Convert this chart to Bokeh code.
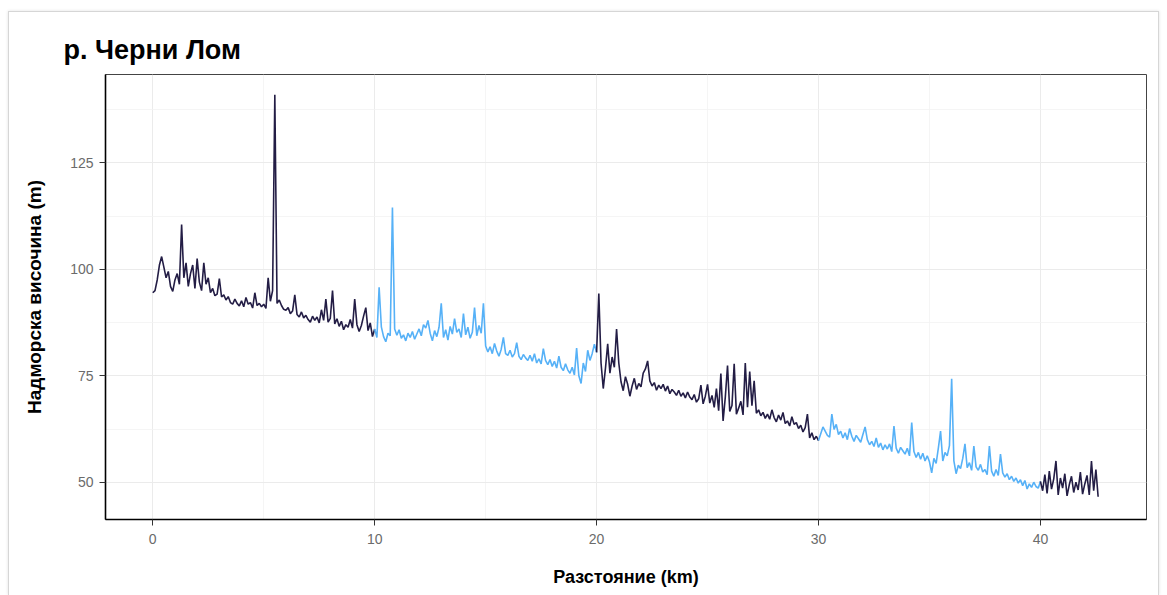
import numpy as np
from bokeh.plotting import figure
from bokeh.models import FixedTicker, Range1d
from bokeh.embed import file_html
from bokeh.resources import INLINE

# Elevation profile of the river, sampled every 0.1 km (metres above sea level)
STEP_KM = 0.1
elevation_m = [
    # 0-1 km
    94.5, 95.0, 97.5, 101.0, 103.0, 100.5, 98.0, 99.5, 96.0, 94.8,
    97.5, 99.0, 96.5, 110.5, 98.0, 101.5, 96.0, 99.0, 101.0, 95.5,
    102.5, 97.0, 95.0, 101.5, 96.5, 98.0, 94.5, 95.5, 93.8, 94.2,
    97.8, 93.5, 94.0, 92.8, 93.6, 92.2, 91.8, 93.0, 92.0, 91.4,
    92.6, 91.2, 93.4, 91.8, 92.2, 90.9, 94.5, 91.5, 92.0, 91.2,
    91.8, 90.8, 98.0, 92.5, 95.0, 141.0, 92.0, 92.8, 91.5, 90.6,
    90.4, 91.0, 89.6, 90.2, 94.0, 89.4, 88.8, 90.0, 88.6, 89.2,
    88.2, 87.6, 89.0, 88.0, 88.8, 87.4, 90.5, 88.0, 93.0, 87.6,
    88.5, 95.0, 87.2, 88.4, 86.6, 87.8, 85.8, 87.0, 86.4, 88.2,
    86.2, 93.0, 87.0, 85.4, 86.8, 89.0, 91.0, 85.6, 87.4, 84.2,
    # 10-11 km
    86.0, 84.0, 95.8, 86.5, 84.2, 83.0, 85.0, 84.4, 114.5, 86.0,
    84.5, 85.8, 83.8, 84.6, 83.2, 85.0, 84.0, 85.4, 83.6, 84.8,
    86.0, 84.4, 87.0, 86.2, 88.0, 85.0, 83.2, 85.6, 84.2, 86.4,
    92.0, 84.0, 85.8, 83.4, 86.6, 84.8, 88.4, 85.2, 86.0, 84.0,
    89.6, 84.6, 86.4, 83.8, 85.2, 91.0, 84.4, 86.8, 85.0, 92.0,
    82.0, 80.6, 81.8, 80.2, 82.6, 80.8, 79.6, 81.2, 84.0, 80.2,
    79.8, 81.0, 79.4, 80.2, 82.8, 79.6, 78.8, 80.0, 79.2, 78.6,
    79.8, 78.4, 80.2, 78.0, 79.0, 77.8, 81.4, 78.6, 77.6, 78.8,
    77.2, 78.4, 76.8, 79.6, 77.0, 76.2, 77.8, 76.4, 75.6, 77.0,
    75.2, 81.5, 75.0, 73.2, 78.0, 76.0, 81.0, 78.6, 80.2, 82.4,
    # 20-21 km
    80.5, 94.3, 78.0, 72.0, 76.8, 82.5, 75.6, 79.4, 77.0, 86.0,
    78.0, 73.6, 71.5, 74.8, 73.0, 70.2, 72.6, 74.4, 71.8, 73.2,
    72.4, 75.6, 76.6, 78.5, 73.8, 72.6, 73.4, 71.6, 72.8, 72.0,
    73.0, 71.4, 72.6, 70.8, 71.8, 71.2, 70.4, 71.6, 70.2, 71.0,
    69.8, 71.2, 70.0, 69.4, 70.6, 68.8, 69.6, 72.8, 68.4, 70.2,
    73.0, 68.6, 70.4, 67.6, 72.0, 66.8, 75.5, 64.4, 70.0, 77.4,
    66.6, 68.0, 77.8, 66.0, 67.4, 69.0, 65.8, 78.0, 67.6, 76.0,
    68.0, 73.8, 66.2, 67.0, 65.6, 66.4, 65.0, 66.0, 64.8, 67.0,
    65.2, 64.2, 65.8, 64.6, 66.4, 63.8, 64.4, 63.2, 65.4, 63.6,
    64.0, 62.6, 63.4, 61.8, 62.8, 66.0, 60.4, 61.6, 60.0, 60.8,
    # 30-31 km
    59.8, 61.4, 63.0, 62.0, 61.0, 60.6, 66.0, 62.4, 63.6, 61.2,
    62.0, 60.4, 61.6, 60.0, 62.6, 60.8, 59.6, 61.0, 60.2, 59.4,
    61.2, 63.0, 60.0, 58.8, 59.6, 58.4, 60.4, 58.2, 59.2, 57.6,
    58.8, 57.8, 59.0, 57.2, 63.2, 58.0, 56.8, 58.2, 57.4, 56.6,
    58.0, 56.2, 64.0, 57.2, 55.8, 57.0, 55.4, 56.8, 55.0, 56.2,
    54.8, 52.2, 55.6, 54.4, 58.0, 62.0, 55.0, 57.0, 56.2, 58.6,
    74.3, 55.0, 52.0, 54.0, 53.2, 55.6, 59.0, 53.4, 54.6, 52.8,
    58.5, 53.6, 52.8, 54.2, 52.4, 53.0, 51.8, 58.5, 52.6, 51.4,
    53.0, 51.6, 56.6, 52.2, 51.2, 52.0, 50.6, 51.4, 50.2, 51.0,
    49.8, 50.6, 49.2, 50.4, 48.4, 49.6, 48.8, 50.0, 49.0, 48.6,
    # 40-42.6 km
    50.2, 48.0, 51.8, 47.4, 52.6, 48.4, 50.8, 55.0, 47.0, 51.0,
    48.6, 52.0, 46.8, 49.4, 51.4, 47.6, 50.0, 48.2, 52.4, 47.2,
    49.6, 51.6, 47.0, 55.0, 48.0, 53.0, 46.6,
]

# 10 km stretches, alternately coloured
segment_edges_km = [0, 10, 20, 30, 40, 42.6]
segment_colors = ["#231d45", "#56B1F7", "#231d45", "#56B1F7", "#231d45"]

x_ticks = [0, 10, 20, 30, 40]
x_minor = [5, 15, 25, 35]
y_ticks = [50, 75, 100, 125]
y_minor = [62.5, 87.5, 112.5, 137.5]

distance_km = np.round(np.arange(len(elevation_m)) * STEP_KM, 1)
elev = np.array(elevation_m)

FONT = "Liberation Sans"

p = figure(
    width=1151, height=584,
    output_backend="svg", toolbar_location=None,
    x_range=Range1d(-2.13, 44.78), y_range=Range1d(41.25, 145.75),
    min_border_left=96, min_border_right=14,
    min_border_top=62, min_border_bottom=77,
    background_fill_color="white", border_fill_color="white",
)
p.margin = (11, 0, 0, 8)
p.styles = {
    "border-left": "1px solid #d6d6d6",
    "border-top": "1px solid #d6d6d6",
    "border-right": "1px solid #d6d6d6",
    "box-shadow": "0 0 3px rgba(0,0,0,0.12)",
}

for (lo, hi), color in zip(zip(segment_edges_km[:-1], segment_edges_km[1:]), segment_colors):
    m = (distance_km >= lo) & (distance_km <= hi)
    p.line(distance_km[m], elev[m], line_color=color, line_width=1.6)

# title
p.title.text = "р. Черни Лом"
p.title.text_font = FONT
p.title.text_font_size = "27px"
p.title.text_font_style = "bold"
p.title.text_color = "black"
p.title.align = "left"
p.title.offset = -42
p.title.standoff = 20

# axes
for ax in (p.xaxis[0], p.yaxis[0]):
    ax.axis_line_color = "black"
    ax.axis_line_width = 1.6
    ax.major_tick_line_color = "#333333"
    ax.major_tick_in = 0
    ax.major_tick_out = 6
    ax.minor_tick_line_color = None
    ax.major_label_text_font = FONT
    ax.major_label_text_font_size = "14px"
    ax.major_label_text_color = "#6b6b6b"
    ax.axis_label_text_font = FONT
    ax.axis_label_text_font_style = "bold"
    ax.axis_label_text_color = "black"

p.xaxis.ticker = FixedTicker(ticks=x_ticks, minor_ticks=x_minor)
p.yaxis.ticker = FixedTicker(ticks=y_ticks, minor_ticks=y_minor)
p.xaxis.axis_label = "Разстояние (km)"
p.yaxis.axis_label = "Надморска височина (m)"
p.xaxis.axis_label_text_font_size = "18px"
p.yaxis.axis_label_text_font_size = "19px"
p.xaxis.major_label_standoff = 8
p.yaxis.major_label_standoff = 6
p.xaxis.axis_label_standoff = 20
p.yaxis.axis_label_standoff = 22

# grid
p.grid.grid_line_color = "#ebebeb"
p.grid.grid_line_width = 1
p.grid.minor_grid_line_color = "#f3f3f3"
p.grid.minor_grid_line_width = 0.8

p.outline_line_color = "#444444"
p.outline_line_width = 1

open("out.html", "w").write(file_html(p, INLINE))
